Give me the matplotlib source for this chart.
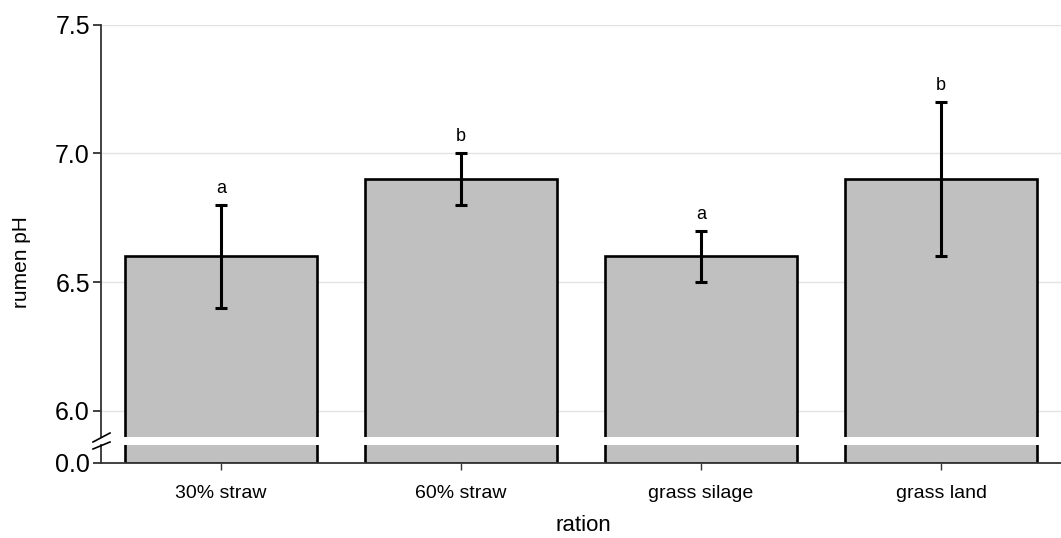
import matplotlib
matplotlib.use('Agg')
import matplotlib.pyplot as plt
from matplotlib.lines import Line2D

categories = ['30% straw', '60% straw', 'grass silage', 'grass land']
means = [6.6, 6.9, 6.6, 6.9]
errors = [0.2, 0.1, 0.1, 0.3]
letters = ['a', 'b', 'a', 'b']
yticks_top = [6.0, 6.5, 7.0, 7.5]
ytick_labels_top = ['6.0', '6.5', '7.0', '7.5']
yticks_bot = [0.0]
ytick_labels_bot = ['0.0']

plt.rcParams['font.family'] = ['Liberation Sans', 'DejaVu Sans']

W, H = 1061, 538
fig = plt.figure(figsize=(W / 100, H / 100), dpi=100)


def fr(x0, y0, x1, y1):
    return [x0 / W, 1 - y1 / H, (x1 - x0) / W, (y1 - y0) / H]


ax_top = fig.add_axes(fr(101, 24.5, 1066, 437))
ax_bot = fig.add_axes(fr(101, 445, 1066, 463))

x = list(range(len(categories)))
bar_kw = dict(width=0.8, color='#c0c0c0', edgecolor='black', linewidth=1.9, zorder=2)
for ax in (ax_top, ax_bot):
    ax.bar(x, means, **bar_kw)
    ax.set_xlim(-0.5, 3.52)
    for s in ('top', 'right'):
        ax.spines[s].set_visible(False)
    ax.spines['left'].set_color('#333333')
    ax.spines['left'].set_linewidth(1.3)
    ax.tick_params(axis='y', length=6, width=1.3, color='#333333', pad=2,
                   labelsize=18)

ax_top.set_ylim(5.899, 7.5)
ax_top.set_yticks(yticks_top)
ax_top.set_yticklabels(ytick_labels_top)
ax_top.spines['bottom'].set_visible(False)
ax_top.tick_params(axis='x', bottom=False, labelbottom=False)
ax_top.grid(axis='y', color='#e3e3e3', linewidth=1.0, zorder=0)
ax_top.set_axisbelow(True)

ax_top.errorbar(x, means, yerr=errors, fmt='none', ecolor='black',
                elinewidth=2.2, capsize=4, capthick=2.2, zorder=3)
for xi, m, e, t in zip(x, means, errors, letters):
    ax_top.text(xi, m + e + 0.047, t, ha='center', va='baseline', fontsize=13)

ax_bot.set_ylim(0, 0.07)
ax_bot.set_yticks(yticks_bot)
ax_bot.set_yticklabels(ytick_labels_bot)
ax_bot.spines['bottom'].set_color('#333333')
ax_bot.spines['bottom'].set_linewidth(1.3)
ax_bot.set_xticks(x)
ax_bot.set_xticklabels(categories, fontsize=14)
ax_bot.tick_params(axis='x', length=5, width=1.0, color='#333333', pad=11)
ax_bot.set_xlabel('ration', fontsize=16, labelpad=9)

fig.text(22 / W, 1 - 262 / H, 'rumen pH', rotation=90, ha='center', va='center',
         fontsize=15)

# axis break marks
for y0, y1 in ((442, 433), (449, 442)):
    fig.add_artist(Line2D([93 / W, 110 / W], [1 - y0 / H, 1 - y1 / H],
                          color='black', linewidth=1.2))

fig.savefig('out.png', dpi=100)
